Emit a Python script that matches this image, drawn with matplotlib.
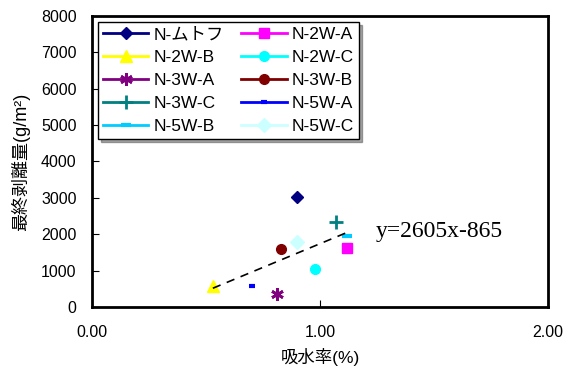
import matplotlib
matplotlib.use('Agg')
import matplotlib.pyplot as plt
import numpy as np

plt.rcParams['font.family'] = ['Liberation Sans', 'Noto Sans CJK JP', 'DejaVu Sans']

# 吸水率(%) と 最終剥離量(g/m2) のデータ
labels = ['N-ムトフ', 'N-2W-A', 'N-2W-B', 'N-2W-C', 'N-3W-A',
          'N-3W-B', 'N-3W-C', 'N-5W-A', 'N-5W-B', 'N-5W-C']
water_abs = [0.90, 1.12, 0.53, 0.98, 0.81, 0.83, 1.07, 0.70, 1.12, 0.90]
peel = [3030, 1630, 580, 1050, 360, 1590, 2350, 580, 1940, 1800]

colors = ['#000080', '#FF00FF', '#FFFF00', '#00FFFF', '#800080',
          '#800000', '#008080', '#0000FF', '#00CCFF', '#CCFFFF']
markers = ['D', 's', '^', 'o', (6, 2, 0), 'o', '+', '_', '_', 'D']
sizes = [6.5, 7.5, 8.5, 7, 9, 7, 10, 5, 7, 7.5]

# 近似直線
slope, intercept = 2605, -865

fig = plt.figure(figsize=(5.63, 3.67), dpi=100)
ax = fig.add_axes([0.1634, 0.1635, 0.81, 0.793])

handles = []
for lab, x, y, c, m, s in zip(labels, water_abs, peel, colors, markers, sizes):
    mew = 3 if m == '_' else (2 if m == '+' or isinstance(m, tuple) else 1)
    h, = ax.plot([x], [y], linestyle='-', color=c, marker=m, markersize=s,
                 markeredgewidth=mew, linewidth=2, label=lab)
    handles.append(h)

xs = np.array([min(water_abs), max(water_abs)])
ax.plot(xs, slope * xs + intercept, 'k--', linewidth=1.2, dashes=(5, 4))
ax.text(1.245, 2080, 'y=%dx-%d' % (slope, -intercept), fontsize=17,
        family='Liberation Serif', va='center')

ax.set_xlim(0, 2)
ax.set_ylim(0, 8000)
ax.set_xticks([0, 1, 2])
ax.set_xticklabels(['0.00', '1.00', '2.00'])
ax.set_yticks(np.arange(0, 8001, 1000))
ax.tick_params(direction='in', labelsize=11.5, length=5)
ax.tick_params(axis='x', pad=13)
ax.tick_params(axis='y', pad=11)
for sp in ax.spines.values():
    sp.set_linewidth(2)

ax.set_xlabel('吸水率(%)', fontsize=12.5, labelpad=6)
ax.set_ylabel('最終剥離量(g/m²)', fontsize=13, labelpad=8)

# 行方向に並べる
order = [0, 2, 4, 6, 8, 1, 3, 5, 7, 9]
leg = ax.legend([handles[i] for i in order], [labels[i] for i in order],
                loc='upper left', ncol=2, fontsize=12.5, frameon=True,
                fancybox=False, shadow=True, edgecolor='black',
                handlelength=2.6, handletextpad=0.3, columnspacing=1.0,
                labelspacing=0.45, borderaxespad=0.35, borderpad=0.3)
leg.get_frame().set_linewidth(1)

fig.savefig('out.png', dpi=100)
